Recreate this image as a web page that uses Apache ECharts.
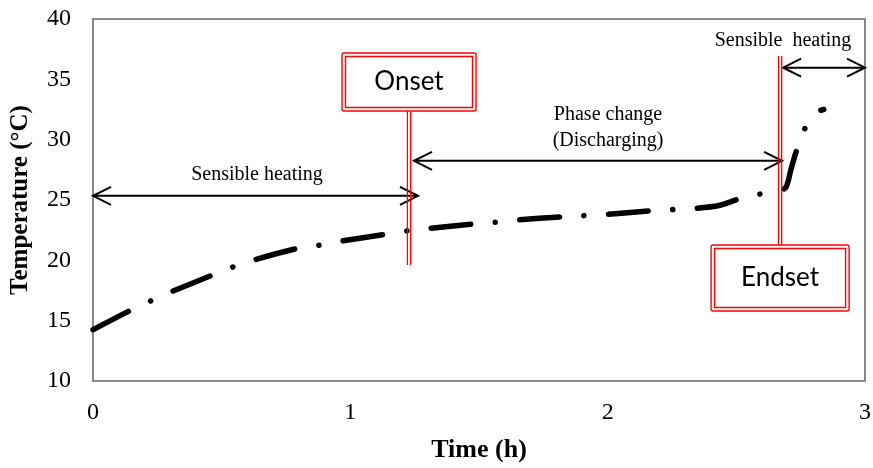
<!DOCTYPE html>
<html>
<head>
<meta charset="utf-8">
<script src="https://cdn.jsdelivr.net/npm/echarts@6/dist/echarts.min.js"></script>
<style>
  html, body { margin: 0; padding: 0; background: #fff; }
  #chart { width: 873px; height: 468px; }
</style>
</head>
<body>
<div id="chart"></div>
<script>
// Discharging curve: time (h) vs. temperature (°C)
var timeH = [0, 0.15, 0.225, 0.305, 0.467, 0.544, 0.629, 0.797, 0.878, 0.965, 1.133, 1.222,
             1.308, 1.47, 1.56, 1.65, 1.819, 1.903, 1.993, 2.161, 2.25, 2.336, 2.433, 2.498,
             2.582, 2.672, 2.694, 2.712, 2.731, 2.763, 2.815, 2.84];
var tempC = [14.25, 15.9, 16.65, 17.4, 18.8, 19.45, 20.05, 21.0, 21.25, 21.6, 22.15, 22.45,
             22.65, 23.0, 23.15, 23.35, 23.6, 23.7, 23.8, 24.1, 24.2, 24.3, 24.55, 25.0,
             25.45, 25.8, 26.1, 27.5, 28.9, 30.8, 32.3, 32.5];

// Phase boundaries (h) and arrow heights (°C)
var onsetTime = 1.228;
var endsetTime = 2.67;
var sensibleArrowTemp = 25.35;
var phaseArrowTemp = 28.25;
var lateArrowTemp = 35.97;

var xTicks = [0, 1, 2, 3];
var yTicks = [10, 15, 20, 25, 30, 35, 40];

var seriesData = timeH.map(function (t, i) { return [t, tempC[i]]; });

var serif = '"Liberation Serif", "Times New Roman", serif';
var chart = echarts.init(document.getElementById('chart'), null, { renderer: 'canvas' });

chart.setOption({
  animation: false,
  backgroundColor: '#ffffff',
  grid: {
    left: 93, right: 8, top: 19, bottom: 87,
    outerBoundsMode: 'none', containLabel: false,
    show: true, borderColor: '#898989', borderWidth: 2, backgroundColor: 'transparent'
  },
  xAxis: {
    type: 'value', min: xTicks[0], max: xTicks[xTicks.length - 1], interval: 1,
    name: 'Time (h)', nameLocation: 'middle', nameGap: 56,
    nameTextStyle: { fontFamily: serif, fontWeight: 'bold', fontSize: 26, color: '#000' },
    axisLine: { show: false }, axisTick: { show: false }, splitLine: { show: false },
    axisLabel: { fontFamily: serif, fontSize: 24, color: '#000', margin: 20 }
  },
  yAxis: {
    type: 'value', min: yTicks[0], max: yTicks[yTicks.length - 1], interval: 5,
    name: 'Temperature (\u00B0C)', nameLocation: 'middle', nameGap: 60, nameRotate: 90,
    nameTextStyle: { fontFamily: serif, fontWeight: 'bold', fontSize: 25, color: '#000' },
    axisLine: { show: false }, axisTick: { show: false }, splitLine: { show: false },
    axisLabel: { fontFamily: serif, fontSize: 24, color: '#000', margin: 22 }
  },
  series: [{
    type: 'line',
    data: seriesData,
    smooth: 0.3,
    showSymbol: false,
    lineStyle: { color: '#000', width: 5.5, type: [39.7, 24.6, 0.1, 24.6], cap: 'round', join: 'round' },
    z: 3
  }]
});

function px(t, T) { return chart.convertToPixel({ gridIndex: 0 }, [t, T]); }

var red = '#ff0000';
var g = [];

// straight arrow with open heads on both ends
function arrow(x1, x2, y) {
  g.push({ type: 'line', shape: { x1: x1, y1: y, x2: x2, y2: y }, style: { stroke: '#000', lineWidth: 2 }, z: 10 });
  g.push({ type: 'polyline', shape: { points: [[x1 + 18, y - 9], [x1, y], [x1 + 18, y + 9]] },
           style: { stroke: '#000', lineWidth: 2, fill: null }, z: 10 });
  g.push({ type: 'polyline', shape: { points: [[x2 - 18, y - 9], [x2, y], [x2 - 18, y + 9]] },
           style: { stroke: '#000', lineWidth: 2, fill: null }, z: 10 });
}

// double red marker line
function doubleLine(x, y1, y2) {
  [-1.6, 1.6].forEach(function (d) {
    g.push({ type: 'line', shape: { x1: x + d, y1: y1, x2: x + d, y2: y2 }, style: { stroke: red, lineWidth: 1.3 }, z: 12 });
  });
}

// double-bordered label box
function labelBox(cx, y, w, h, text) {
  var x = cx - w / 2;
  g.push({ type: 'rect', shape: { x: x, y: y, width: w, height: h, r: 2 }, style: { fill: '#fff', stroke: red, lineWidth: 1.4 }, z: 13 });
  g.push({ type: 'rect', shape: { x: x + 3.5, y: y + 3.5, width: w - 7, height: h - 7 }, style: { fill: '#fff', stroke: red, lineWidth: 1.4 }, z: 13 });
  g.push({ type: 'text', x: cx, y: y + h / 2, style: { text: text, fill: '#000', font: '26px Lato, "Open Sans", sans-serif', align: 'center', verticalAlign: 'middle' }, z: 14 });
}

function label(cx, cy, text) {
  g.push({ type: 'text', x: cx, y: cy, style: { text: text, fill: '#000', font: '20px ' + serif, align: 'center', verticalAlign: 'middle', lineHeight: 26 }, z: 14 });
}

var left = px(0, 10)[0];
var right = px(3, 10)[0];
var onX = px(onsetTime, 10)[0];
var endX = px(endsetTime, 10)[0];
var ySens = px(0, sensibleArrowTemp)[1];
var yPhase = px(0, phaseArrowTemp)[1];
var yLate = px(0, lateArrowTemp)[1];

// Onset marker
doubleLine(onX, 108, 265);
labelBox(onX, 53, 134, 58, 'Onset');

// Endset marker
doubleLine(endX, 56, 248);
labelBox(endX, 245, 138, 66, 'Endset');

arrow(left, onX + 9, ySens);
label((left + onX) / 2 + 6, ySens - 21, 'Sensible heating');

arrow(onX + 5, endX + 2, yPhase);
label(608, yPhase - 33, 'Phase change\n(Discharging)');

arrow(endX + 3, right, yLate);
label(783, yLate - 27, 'Sensible  heating');

chart.setOption({ graphic: g });
</script>
</body>
</html>
